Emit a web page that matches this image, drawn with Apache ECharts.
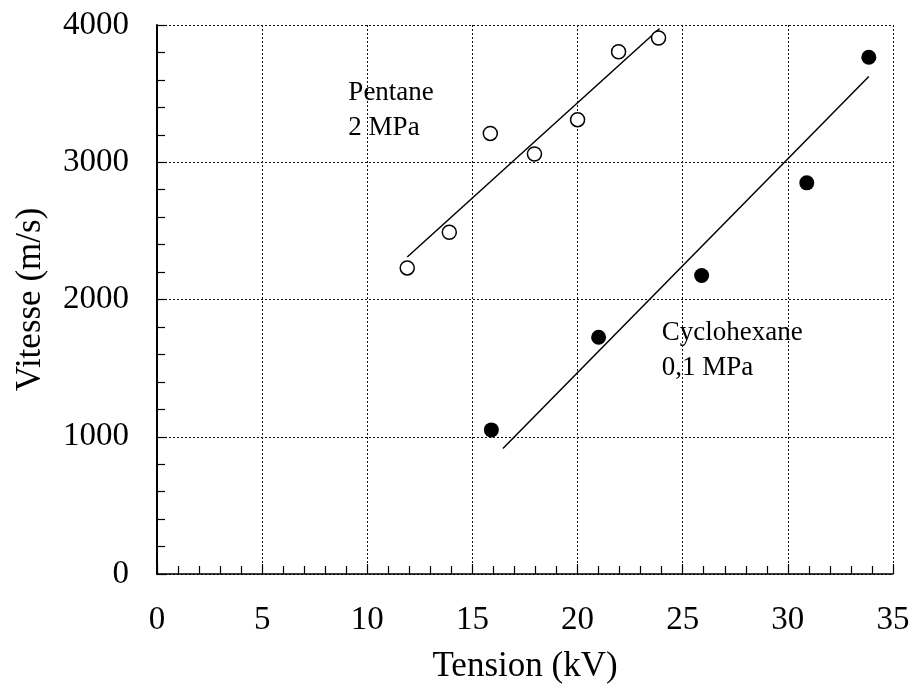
<!DOCTYPE html>
<html>
<head>
<meta charset="utf-8">
<script src="https://cdn.jsdelivr.net/npm/echarts@6/dist/echarts.min.js"></script>
<style>
  html, body { margin: 0; padding: 0; background: #fff; }
  #main { width: 913px; height: 685px; }
</style>
</head>
<body>
<div id="main"></div>
<script>
// points (kV, m/s)
var pentaneX = [11.9, 13.9, 15.85, 17.95, 20.0, 21.95, 23.85];
var pentaneY = [2230, 2490, 3210, 3060, 3310, 3805, 3905];
var cycloX = [15.9, 21.0, 25.9, 30.9, 33.85];
var cycloY = [1050, 1725, 2175, 2850, 3765];
// fitted lines (end points)
var pentaneFitX = [11.9, 23.9];
var pentaneFitY = [2310, 3975];
var cycloFitX = [16.45, 33.85];
var cycloFitY = [915, 3625];
// axis ticks
var xTicks = [0, 5, 10, 15, 20, 25, 30, 35];
var yTicks = [0, 1000, 2000, 3000, 4000];
// labels
var labelPentane = { x: 9.1, y: 3630, text: 'Pentane\n2 MPa' };
var labelCyclo = { x: 24.0, y: 1887, text: 'Cyclohexane\n0,1 MPa' };

function pairs(xs, ys) {
  var out = [];
  for (var i = 0; i < xs.length; i++) out.push([xs[i], ys[i]]);
  return out;
}

var font = 'Liberation Serif';
var myChart = echarts.init(document.getElementById('main'));

var gridLine = { show: true, lineStyle: { color: '#111', width: 1, type: [2, 2] } };

function noteSeries(lab) {
  return {
    type: 'scatter',
    symbolSize: 0,
    silent: true,
    data: [[lab.x, lab.y]],
    itemStyle: { opacity: 1 },
    label: {
      show: true,
      position: [0, 0],
      align: 'left',
      verticalAlign: 'top',
      formatter: lab.text,
      fontFamily: font,
      fontSize: 27,
      lineHeight: 35,
      color: '#000'
    }
  };
}

var option = {
  animation: false,
  backgroundColor: '#fff',
  grid: { left: 157, right: 20, top: 25, bottom: 111, outerBoundsMode: 'none', containLabel: false },
  xAxis: {
    type: 'value',
    min: xTicks[0],
    max: xTicks[xTicks.length - 1],
    interval: 5,
    name: 'Tension (kV)',
    nameLocation: 'middle',
    nameGap: 75,
    nameTextStyle: { fontFamily: font, fontSize: 35, color: '#000' },
    axisLine: { show: true, onZero: false, lineStyle: { color: '#000', width: 1.5 } },
    axisTick: { show: true, inside: true, length: 10, lineStyle: { color: '#000', width: 1.2 } },
    minorTick: { show: true, splitNumber: 5, length: 8, lineStyle: { color: '#000', width: 1.2 } },
    axisLabel: { margin: 30, fontFamily: font, fontSize: 33, color: '#000' },
    splitLine: gridLine
  },
  yAxis: {
    type: 'value',
    min: yTicks[0],
    max: yTicks[yTicks.length - 1],
    interval: 1000,
    name: 'Vitesse (m/s)',
    nameLocation: 'middle',
    nameGap: 109,
    nameTextStyle: { fontFamily: font, fontSize: 35, color: '#000' },
    axisLine: { show: true, onZero: false, lineStyle: { color: '#000', width: 2 } },
    axisTick: { show: true, inside: true, length: 10, lineStyle: { color: '#000', width: 1.2 } },
    minorTick: { show: true, splitNumber: 5, length: 8, lineStyle: { color: '#000', width: 1.2 } },
    axisLabel: {
      margin: 28, fontFamily: font, fontSize: 33, color: '#000',
      formatter: function (v) { return String(v); }
    },
    splitLine: gridLine
  },
  series: [
    {
      type: 'line',
      data: pairs(pentaneFitX, pentaneFitY),
      symbol: 'none',
      lineStyle: { color: '#000', width: 1.5 },
      z: 2
    },
    {
      type: 'line',
      data: pairs(cycloFitX, cycloFitY),
      symbol: 'none',
      lineStyle: { color: '#000', width: 1.5 },
      z: 2
    },
    {
      type: 'scatter',
      data: pairs(pentaneX, pentaneY),
      symbol: 'circle',
      symbolSize: 14,
      itemStyle: { color: '#fff', borderColor: '#000', borderWidth: 1.5, opacity: 1 },
      z: 3
    },
    {
      type: 'scatter',
      data: pairs(cycloX, cycloY),
      symbol: 'circle',
      symbolSize: 15,
      itemStyle: { color: '#000', opacity: 1 },
      z: 3
    },
    noteSeries(labelPentane),
    noteSeries(labelCyclo)
  ]
};

myChart.setOption(option);
</script>
</body>
</html>
